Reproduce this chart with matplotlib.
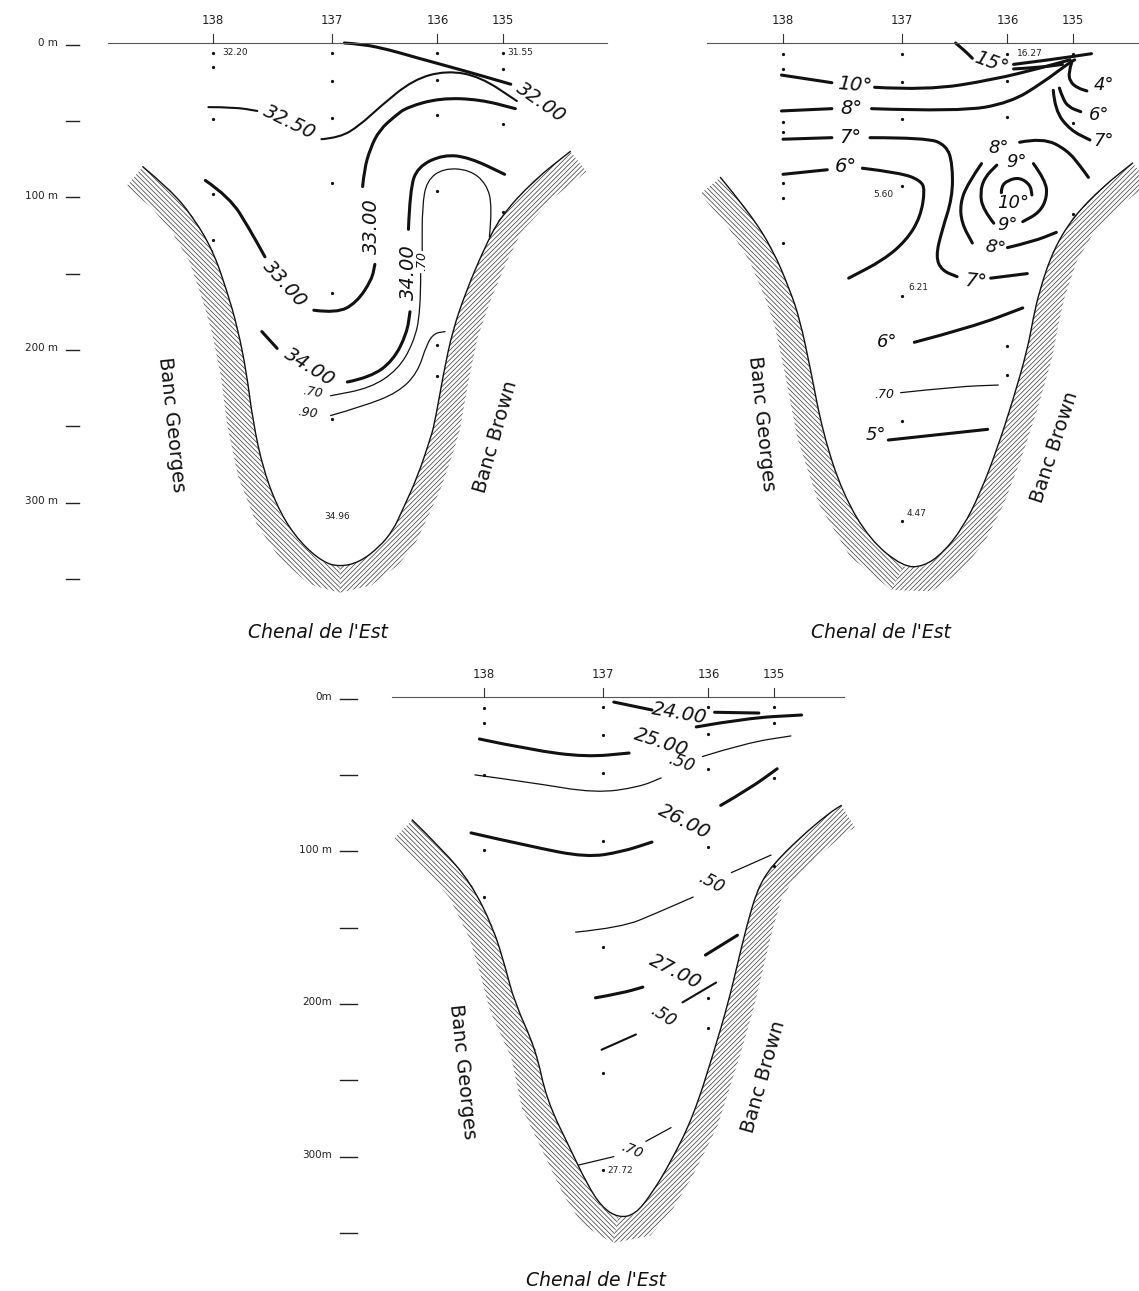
# coupes hydrologiques - Chenal de l'Est
# salinite, temperature et densite (sigma-t) aux stations 135 a 138

import numpy as np
import matplotlib
matplotlib.use("Agg")
import matplotlib.pyplot as plt
from matplotlib.path import Path
from matplotlib.patches import PathPatch, Polygon

plt.rcParams["font.family"] = ["DejaVu Sans"]
plt.rcParams["hatch.linewidth"] = 0.55

INK = "#111111"

# --------------------------------------------------
# stations et profondeurs (distance et profondeur dans la meme unite, m)
# --------------------------------------------------
stations = ["138", "137", "136", "135"]
station_x = [0, 78, 147, 190]

depth_ticks = [0, 50, 100, 150, 200, 250, 300, 350]
depth_labels_1 = {0: "0 m", 100: "100 m", 200: "200 m", 300: "300 m"}
depth_labels_3 = {0: "0m", 100: "100 m", 200: "200m", 300: "300m"}

# points de prelevement par station (profondeurs)
dots_1 = [[6.5, 16, 50, 99, 129],
          [6.5, 25, 49, 92, 164, 246],
          [6.5, 24, 47, 97, 198, 218],
          [6.5, 17, 53, 111]]
dots_2 = [[7, 17, 52, 58, 92, 101.5, 131],
          [7, 25.5, 50, 93.6, 165.7, 247.5, 313],
          [7, 25, 48.5, 198.4, 217.4],
          [7, 52.4, 112]]
dots_3 = [[7, 17, 51, 100, 131],
          [6.5, 25, 50, 94, 164, 246, 310],
          [6.5, 24, 47, 98, 197, 217],
          [6.5, 17, 53, 111]]

# fond du chenal (ligne interieure)
basin1_x = [-46, -28, -13, 0, 9, 16, 22, 26, 33, 44, 57, 72, 83, 96, 109, 118, 124, 134, 142, 145, 151, 157, 166, 177, 188, 210, 234]
basin1_d = [81, 96, 114, 136, 162, 186, 216, 247, 280, 308, 327, 340, 343, 340, 330, 319, 306, 284, 260, 250, 216, 188, 162, 136, 114, 90, 71]
basin2_x = [-41, -22, -6.5, 4.6, 11, 17.7, 26, 39, 57, 78.6, 91.7, 104.8, 118, 129, 140, 150.6, 160, 163.7, 168, 177, 190, 209.6, 229]
basin2_d = [88, 111, 135.6, 162, 181, 212, 255, 295, 325.5, 343, 343, 334, 317, 295, 266.5, 234, 201, 181, 162, 135.6, 114, 94, 78.6]
basin3_x = [-47, -27, -8.5, 6, 14, 20, 34, 41, 57, 67, 77, 88, 99, 110, 122, 137, 151, 160, 166, 172, 179, 188, 207, 226, 234]
basin3_d = [80.5, 100, 122, 151, 177, 200, 231, 264, 297, 318, 334, 341, 339, 325, 305, 275, 231, 200, 175, 150, 126, 111, 92, 76, 71]

# --------------------------------------------------
# salinite (panneau 1)
# --------------------------------------------------
s3200_x = [86, 98, 116, 131, 164, 195]
s3200_d = [0, 0.7, 4.6, 9, 18, 27]
s3250a_x = [-3, 14, 29]
s3250a_d = [42, 42, 44.5]
s3250b_x = [71, 83, 96, 109, 131, 153, 175, 199]
s3250b_d = [63, 62, 54, 42, 24, 18, 22, 38]
s3300a_x = [-5, 11, 24, 34]
s3300a_d = [90, 101, 122, 140]
s3300b_x = [66, 81, 94, 104, 106]
s3300b_d = [175, 177, 170, 155, 145]
s3300c_x = [98, 99, 103, 109, 119, 127, 149, 175, 198]
s3300c_d = [94, 83, 69, 57, 48, 42, 36, 37, 43]
s3400a_x = [32, 42]
s3400a_d = [189, 200]
s3400b_x = [88, 103, 118, 127, 129]
s3400b_d = [222, 219, 208, 190, 176]
s3400c_x = [128, 129, 134, 151, 168, 191]
s3400c_d = [122, 96, 81, 73, 75, 86]
s3470a_x = [181, 183, 179, 168, 151, 140, 137, 137]
s3470a_d = [127, 107, 92, 83, 82, 90, 107, 136]
s3470b_x = [136, 136, 131, 121, 103, 77]
s3470b_d = [151, 177, 197, 214, 226, 231]
s3490_x = [77, 98, 121, 134, 140, 145, 152]
s3490_d = [244, 238, 229, 216, 197, 190, 189]

sal_labels = [(215, 39, "32.00", -35, 14), (50, 52, "32.50", -26, 14),
              (47, 158, "33.00", -48, 14), (103.5, 120, "33.00", 90, 14),
              (63.5, 212, "34.00", -32, 14), (127.7, 150, "34.00", 90, 14),
              (137, 143, ".70", 90, 9), (65, 228.5, ".70", -10, 9),
              (62, 242, ".90", -8, 9)]
sal_values = [(6, 6.5, "32.20", "left"), (193, 6.5, "31.55", "left"),
              (81, 310, "34.96", "center")]

# --------------------------------------------------
# temperature (panneau 2)
# --------------------------------------------------
t15a_x = [113, 119, 124]
t15a_d = [0, 5, 10]
t15b_x = [151, 175, 202]
t15b_d = [14, 11, 7]
t15c_x = [151, 168, 183]
t15c_d = [17, 16, 14]
t10a_x = [-1, 32]
t10a_d = [21, 26]
t10b_x = [60, 94, 138, 170, 188]
t10b_d = [29, 31, 24, 16, 11]
t8a_x = [-1, 32]
t8a_d = [44.5, 43]
t8b_x = [58, 116, 149, 170, 186, 191]
t8b_d = [43, 45, 39, 26, 14, 11]
t4_x = [189, 187, 188, 193, 199]
t4_d = [13, 19, 25.5, 29.5, 31.4]
t6r_x = [181, 183, 187, 195]
t6r_d = [29.5, 36, 42, 45]
t7r_x = [177, 178, 188, 201]
t7r_d = [31, 44, 57, 63.5]
t7a_x = [0, 32]
t7a_d = [63, 62]
t7b_x = [57, 94, 107, 111, 111, 104, 100, 104, 114]
t7b_d = [62, 62, 67, 79, 101, 123, 140, 149, 153]
t7c_x = [136, 160]
t7c_d = [154, 151]
t6a_x = [0, 29]
t6a_d = [86, 83]
t6b_x = [52, 77, 90, 93, 90, 81, 66, 43]
t6b_d = [82, 85, 90, 96, 114, 129, 142, 154]
t8c_x = [155, 170, 186, 195, 200]
t8c_d = [65, 62, 70, 81, 88]
t8d_x = [130, 121, 116, 117, 124]
t8d_d = [79, 92, 105, 118, 131]
t8e_x = [147, 164, 179]
t8e_d = [134, 130, 124]
t9a_x = [164, 172, 173, 168, 157]
t9a_d = [79, 90, 101, 111, 117]
t9b_x = [138, 131, 129, 132, 140]
t9b_d = [118, 109, 98, 88, 80]
t10c_x = [143, 143, 147, 155, 162, 163]
t10c_d = [98, 94, 90, 88, 93, 99.5]
t6c_x = [86, 124, 157]
t6c_d = [196, 186, 173.5]
t570_x = [77, 114, 141]
t570_d = [229, 225, 224]
t5_x = [69, 134]
t5_d = [260, 253]

tem_labels = [(136, 13, "15°", -20, 14), (47, 27.5, "10°", -5, 14),
              (45, 42.6, "8°", 0, 14), (44, 62, "7°", 0, 14), (41, 81, "6°", 0, 14),
              (210, 27.5, "4°", 0, 13), (207, 47, "6°", 0, 13), (210, 64, "7°", 0, 13),
              (141, 69, "8°", 0, 13), (153, 78, "9°", 0, 13), (151, 105, "10°", 0, 13),
              (147, 119, "9°", 0, 13), (139, 134, "8°", -10, 13), (126, 156.5, "7°", -5, 14),
              (68, 196, "6°", 0, 13), (66, 230, ".70", 0, 9), (61, 257, "5°", 0, 13)]
tem_values = [(153, 7, "16.27", "left"), (72, 99.5, "5.60", "right"),
              (82, 160, "6.21", "left"), (81, 308, "4.47", "left")]

# --------------------------------------------------
# densite sigma-t (panneau 3)
# --------------------------------------------------
d24a_x = [85, 110]
d24a_d = [3.3, 8.5]
d24b_x = [151, 180]
d24b_d = [10, 10.5]
d25a_x = [-3, 31, 67, 95]
d25a_d = [27.5, 34.7, 39.3, 36.7]
d25b_x = [139, 172, 208]
d25b_d = [19.6, 13.8, 11.8]
d2550a_x = [-6, 31, 73, 101.5, 116]
d2550a_d = [51, 56, 63, 59, 53]
d2550b_x = [143, 172, 201]
d2550b_d = [39, 30, 25.5]
d26a_x = [-8.5, 31, 67, 90, 110]
d26a_d = [89, 98, 105, 101.5, 95]
d26b_x = [155, 174, 192]
d26b_d = [71, 60, 47]
d2650a_x = [60, 90, 113, 137]
d2650a_d = [154, 151, 141.5, 131]
d2650b_x = [162, 188]
d2650b_d = [115, 103.5]
d27a_x = [73, 90, 104]
d27a_d = [197, 194, 190]
d27b_x = [145, 166]
d27b_d = [169, 156]
d2750a_x = [77, 99.5]
d2750a_d = [231, 221]
d2750b_x = [130, 152]
d2750b_d = [200, 187]
d2770a_x = [62, 85]
d2770a_d = [306.5, 301]
d2770b_x = [106, 122.5]
d2770b_d = [291, 282]

den_labels = [(128, 10.5, "24.00", -10, 14), (116, 29.5, "25.00", -18, 14),
              (129, 43, ".50", -20, 12), (131, 82, "26.00", -27, 14),
              (149, 122, ".50", -28, 12), (125, 180, "27.00", -27, 14),
              (117, 209, ".50", -33, 12), (97, 297, ".70", -22, 10)]
den_values = [(81, 310.4, "27.72", "left")]

THICK, MED, THIN = 2.2, 1.5, 0.9

sal_lines = [(s3200_x, s3200_d, THICK), (s3250a_x, s3250a_d, MED), (s3250b_x, s3250b_d, MED),
             (s3300a_x, s3300a_d, THICK), (s3300b_x, s3300b_d, THICK), (s3300c_x, s3300c_d, THICK),
             (s3400a_x, s3400a_d, THICK), (s3400b_x, s3400b_d, THICK), (s3400c_x, s3400c_d, THICK),
             (s3470a_x, s3470a_d, THIN), (s3470b_x, s3470b_d, THIN), (s3490_x, s3490_d, THIN)]
tem_lines = [(t15a_x, t15a_d, THICK), (t15b_x, t15b_d, THICK), (t15c_x, t15c_d, THICK),
             (t10a_x, t10a_d, THICK), (t10b_x, t10b_d, THICK), (t8a_x, t8a_d, THICK),
             (t8b_x, t8b_d, THICK), (t4_x, t4_d, THICK), (t6r_x, t6r_d, THICK),
             (t7r_x, t7r_d, THICK), (t7a_x, t7a_d, THICK), (t7b_x, t7b_d, THICK),
             (t7c_x, t7c_d, THICK), (t6a_x, t6a_d, THICK), (t6b_x, t6b_d, THICK),
             (t8c_x, t8c_d, THICK), (t8d_x, t8d_d, THICK), (t8e_x, t8e_d, THICK),
             (t9a_x, t9a_d, THICK), (t9b_x, t9b_d, THICK), (t10c_x, t10c_d, THICK),
             (t6c_x, t6c_d, THICK), (t570_x, t570_d, THIN), (t5_x, t5_d, THICK)]
den_lines = [(d24a_x, d24a_d, THICK), (d24b_x, d24b_d, THICK), (d25a_x, d25a_d, THICK),
             (d25b_x, d25b_d, THICK), (d2550a_x, d2550a_d, THIN), (d2550b_x, d2550b_d, THIN),
             (d26a_x, d26a_d, THICK), (d26b_x, d26b_d, THICK), (d2650a_x, d2650a_d, THIN),
             (d2650b_x, d2650b_d, THIN), (d27a_x, d27a_d, THICK), (d27b_x, d27b_d, THICK),
             (d2750a_x, d2750a_d, MED), (d2750b_x, d2750b_d, MED),
             (d2770a_x, d2770a_d, THIN), (d2770b_x, d2770b_d, THIN)]


def smooth_line(ax, xs, ds, lw, color=INK):
    # courbe lissee: les points servent de points de controle
    pts = np.column_stack([xs, ds]).astype(float)
    if len(pts) < 3:
        ax.plot(pts[:, 0], pts[:, 1], color=color, lw=lw, solid_capstyle="round")
        return
    verts = [pts[0]]
    codes = [Path.MOVETO]
    for i in range(1, len(pts) - 1):
        verts.append(pts[i])
        verts.append((pts[i] + pts[i + 1]) / 2)
        codes += [Path.CURVE3, Path.CURVE3]
    verts.append(pts[-1])
    codes.append(Path.LINETO)
    ax.add_patch(PathPatch(Path(verts, codes), facecolor="none", edgecolor=color,
                           lw=lw, capstyle="round"))


def draw_basin(ax, bx, bd, width=17):
    pts = np.column_stack([bx, bd]).astype(float)
    tx = np.gradient(pts[:, 0])
    td = np.gradient(pts[:, 1])
    n = np.hypot(tx, td)
    outer = pts + width * np.column_stack([-td / n, tx / n])
    k = int(np.argmax(pts[:, 1]))
    for sl, hatch in ((slice(0, k + 1), "\\" * 7), (slice(k, None), "/" * 7)):
        poly = np.vstack([pts[sl], outer[sl][::-1]])
        ax.add_patch(Polygon(poly, closed=True, facecolor="none", edgecolor="#444444",
                             lw=0, hatch=hatch))
    smooth_line(ax, bx, bd, 1.0)


def make_panel(fig, box, ref, scale=1.527):
    # box: zone en pixels de la figure, ref: pixel de la station 138 en surface
    W, H = fig.get_size_inches() * fig.dpi
    px0, px1, py0, py1 = box
    ax = fig.add_axes([px0 / W, 1 - py1 / H, (px1 - px0) / W, (py1 - py0) / H])
    ax.set_xlim((px0 - ref[0]) / scale, (px1 - ref[0]) / scale)
    ax.set_ylim((py1 - ref[1]) / scale, (py0 - ref[1]) / scale)
    ax.axis("off")
    ax.patch.set_alpha(0)
    return ax


def draw_panel(ax, basin_x, basin_d, lines, labels, values, dots, surface, names_pos,
               depth_labels=None, depth_x=None):
    ax.plot(surface, [0, 0], color="#555555", lw=0.8)
    for name, sx in zip(stations, station_x):
        ax.plot([sx, sx], [-6, 0], color="#333333", lw=0.8)
        ax.text(sx, -15, name, ha="center", va="center", fontsize=8.5, color="#222222")
    for sx, col in zip(station_x, dots):
        ax.plot([sx] * len(col), col, "o", color=INK, ms=1.3, ls="none")

    draw_basin(ax, basin_x, basin_d)

    for xs, ds, lw in lines:
        smooth_line(ax, xs, ds, lw)
    for x, d, txt, rot, size in labels:
        ax.text(x, d, txt, rotation=rot, rotation_mode="anchor", ha="center", va="center",
                fontsize=size, style="italic", color=INK)
    for x, d, txt, ha in values:
        ax.text(x, d, txt, ha=ha, va="center", fontsize=6.5, color="#222222")

    (gx, gd, grot), (bx, bd, brot), (cx, cd) = names_pos
    ax.text(gx, gd, "Banc Georges", rotation=grot, ha="center", va="center", fontsize=14, color=INK)
    ax.text(bx, bd, "Banc Brown", rotation=brot, ha="center", va="center", fontsize=14, color=INK)
    ax.text(cx, cd, "Chenal de l'Est", ha="center", va="center", fontsize=13.5,
            style="italic", color=INK)

    if depth_labels is not None:
        x0, x1, xl = depth_x
        for dep in depth_ticks:
            ax.plot([x0, x1], [dep + 1, dep + 1], color="#222222", lw=1.0)
            if dep in depth_labels:
                ax.text(xl, dep, depth_labels[dep], ha="right", va="center",
                        fontsize=7.5, color="#222222")


fig = plt.figure(figsize=(11.39, 12.91), dpi=100)
fig.patch.set_facecolor("white")

ax1 = make_panel(fig, (0, 640, 0, 650), (213, 43))
draw_panel(ax1, basin1_x, basin1_d, sal_lines, sal_labels, sal_values, dots_1,
           [-69, 258], ((-27, 250, -84), (185, 258, 74), (69, 386)),
           depth_labels_1, (-96, -88, -101.5))

ax2 = make_panel(fig, (640, 1139, 0, 650), (783, 43))
draw_panel(ax2, basin2_x, basin2_d, tem_lines, tem_labels, tem_values, dots_2,
           [-50, 233], ((-14, 249, -84), (178, 265, 72), (64, 386)))

ax3 = make_panel(fig, (280, 900, 650, 1291), (484, 697))
draw_panel(ax3, basin3_x, basin3_d, den_lines, den_labels, den_values, dots_3,
           [-60, 236], ((-14, 245, -84), (183, 249, 74), (73, 382)),
           depth_labels_3, (-94, -83, -99.5))

fig.savefig("out.png", dpi=100, facecolor="white")
